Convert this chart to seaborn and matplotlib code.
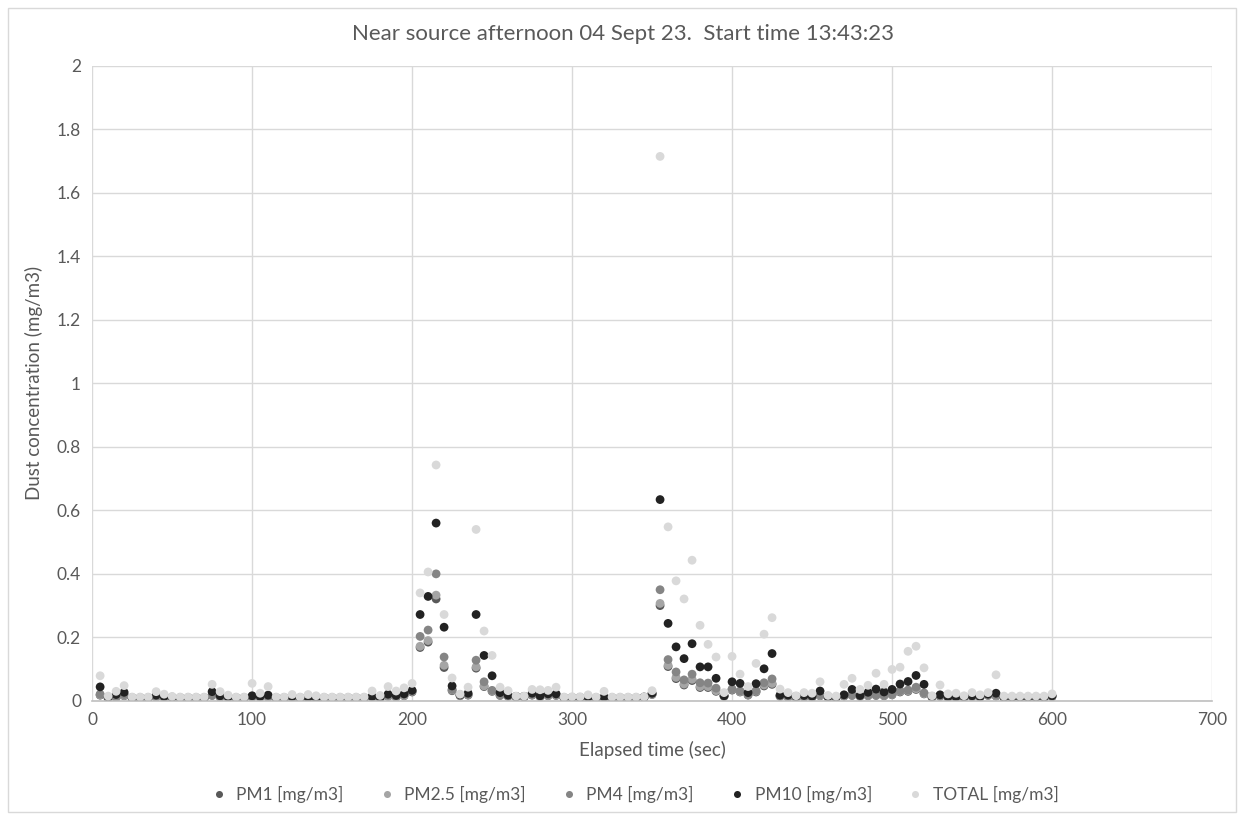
import matplotlib
matplotlib.use("Agg")
import matplotlib.pyplot as plt
from matplotlib.patches import Rectangle
import seaborn as sns
import pandas as pd

elapsed = list(range(5, 605, 5))

pm1 = [0.018, 0.008, 0.010, 0.016, 0.008, 0.008, 0.008, 0.012, 0.010, 0.009,
       0.008, 0.008, 0.008, 0.008, 0.017, 0.012, 0.010, 0.008, 0.008, 0.012,
       0.011, 0.012, 0.008, 0.008, 0.009, 0.008, 0.007, 0.006, 0.008, 0.008,
       0.008, 0.008, 0.008, 0.008, 0.010, 0.008, 0.014, 0.012, 0.016, 0.028,
       0.168, 0.185, 0.321, 0.105, 0.032, 0.016, 0.018, 0.103, 0.045, 0.030,
       0.017, 0.014, 0.012, 0.012, 0.018, 0.013, 0.016, 0.017, 0.008, 0.008,
       0.008, 0.009, 0.008, 0.008, 0.008, 0.008, 0.008, 0.008, 0.010, 0.020,
       0.300, 0.108, 0.070, 0.050, 0.064, 0.042, 0.042, 0.030, 0.014, 0.034,
       0.028, 0.018, 0.028, 0.047, 0.052, 0.014, 0.012, 0.010, 0.012, 0.011,
       0.016, 0.010, 0.009, 0.015, 0.017, 0.014, 0.016, 0.017, 0.016, 0.019,
       0.028, 0.030, 0.036, 0.022, 0.011, 0.014, 0.010, 0.010, 0.010, 0.013,
       0.011, 0.017, 0.015, 0.009, 0.009, 0.009, 0.009, 0.009, 0.009, 0.013]

pm25 = [0.019, 0.009, 0.011, 0.017, 0.009, 0.009, 0.009, 0.013, 0.011, 0.010,
        0.009, 0.009, 0.009, 0.009, 0.018, 0.013, 0.011, 0.009, 0.009, 0.013,
        0.012, 0.013, 0.009, 0.009, 0.010, 0.009, 0.008, 0.007, 0.009, 0.009,
        0.009, 0.009, 0.009, 0.009, 0.011, 0.009, 0.015, 0.013, 0.017, 0.030,
        0.172, 0.190, 0.333, 0.112, 0.034, 0.017, 0.019, 0.107, 0.047, 0.031,
        0.018, 0.015, 0.013, 0.013, 0.019, 0.014, 0.017, 0.018, 0.009, 0.009,
        0.009, 0.010, 0.009, 0.009, 0.009, 0.009, 0.009, 0.009, 0.011, 0.021,
        0.307, 0.112, 0.074, 0.053, 0.068, 0.045, 0.045, 0.032, 0.015, 0.036,
        0.029, 0.019, 0.030, 0.050, 0.055, 0.015, 0.013, 0.011, 0.013, 0.012,
        0.017, 0.011, 0.010, 0.016, 0.018, 0.015, 0.017, 0.018, 0.017, 0.020,
        0.030, 0.032, 0.038, 0.023, 0.012, 0.015, 0.011, 0.011, 0.011, 0.014,
        0.012, 0.018, 0.016, 0.010, 0.010, 0.010, 0.010, 0.010, 0.010, 0.014]

pm4 = [0.021, 0.010, 0.012, 0.020, 0.010, 0.010, 0.010, 0.014, 0.012, 0.011,
       0.010, 0.010, 0.010, 0.010, 0.019, 0.015, 0.012, 0.010, 0.010, 0.014,
       0.014, 0.014, 0.010, 0.010, 0.011, 0.010, 0.009, 0.008, 0.010, 0.010,
       0.010, 0.010, 0.010, 0.010, 0.012, 0.010, 0.017, 0.014, 0.020, 0.032,
       0.203, 0.223, 0.400, 0.138, 0.036, 0.018, 0.020, 0.128, 0.060, 0.033,
       0.019, 0.016, 0.014, 0.014, 0.020, 0.015, 0.018, 0.020, 0.010, 0.010,
       0.010, 0.011, 0.010, 0.010, 0.010, 0.010, 0.010, 0.010, 0.012, 0.022,
       0.350, 0.130, 0.091, 0.066, 0.084, 0.057, 0.056, 0.040, 0.016, 0.037,
       0.031, 0.020, 0.032, 0.057, 0.069, 0.016, 0.014, 0.012, 0.014, 0.013,
       0.019, 0.012, 0.011, 0.017, 0.019, 0.016, 0.018, 0.019, 0.018, 0.021,
       0.032, 0.034, 0.043, 0.025, 0.013, 0.016, 0.012, 0.012, 0.012, 0.015,
       0.013, 0.020, 0.018, 0.011, 0.011, 0.011, 0.011, 0.011, 0.011, 0.015]

pm10 = [0.044, 0.012, 0.020, 0.027, 0.010, 0.010, 0.010, 0.018, 0.014, 0.012,
        0.010, 0.010, 0.010, 0.010, 0.029, 0.016, 0.013, 0.010, 0.010, 0.016,
        0.014, 0.018, 0.010, 0.010, 0.014, 0.010, 0.011, 0.009, 0.010, 0.010,
        0.010, 0.010, 0.010, 0.010, 0.014, 0.011, 0.021, 0.017, 0.022, 0.033,
        0.272, 0.329, 0.560, 0.232, 0.047, 0.019, 0.024, 0.272, 0.143, 0.079,
        0.026, 0.018, 0.014, 0.014, 0.024, 0.016, 0.022, 0.022, 0.010, 0.011,
        0.011, 0.012, 0.010, 0.012, 0.010, 0.010, 0.010, 0.010, 0.012, 0.024,
        0.634, 0.244, 0.170, 0.133, 0.180, 0.107, 0.107, 0.071, 0.016, 0.060,
        0.055, 0.026, 0.054, 0.101, 0.149, 0.018, 0.018, 0.014, 0.017, 0.015,
        0.031, 0.014, 0.012, 0.019, 0.036, 0.017, 0.027, 0.037, 0.028, 0.036,
        0.053, 0.061, 0.080, 0.052, 0.014, 0.019, 0.013, 0.013, 0.013, 0.016,
        0.014, 0.021, 0.024, 0.012, 0.012, 0.012, 0.012, 0.012, 0.012, 0.016]

total = [0.079, 0.015, 0.030, 0.048, 0.012, 0.012, 0.012, 0.029, 0.021, 0.014,
         0.012, 0.012, 0.012, 0.012, 0.052, 0.029, 0.018, 0.012, 0.012, 0.055,
         0.024, 0.045, 0.012, 0.012, 0.020, 0.012, 0.020, 0.016, 0.012, 0.012,
         0.012, 0.012, 0.012, 0.012, 0.031, 0.017, 0.045, 0.031, 0.041, 0.055,
         0.340, 0.406, 0.743, 0.272, 0.072, 0.021, 0.043, 0.540, 0.220, 0.143,
         0.043, 0.032, 0.015, 0.015, 0.036, 0.035, 0.033, 0.043, 0.012, 0.013,
         0.013, 0.019, 0.012, 0.030, 0.012, 0.012, 0.012, 0.012, 0.013, 0.032,
         1.715, 0.548, 0.378, 0.321, 0.443, 0.238, 0.178, 0.138, 0.026, 0.140,
         0.084, 0.045, 0.118, 0.210, 0.262, 0.037, 0.026, 0.016, 0.026, 0.024,
         0.060, 0.017, 0.015, 0.052, 0.071, 0.036, 0.049, 0.087, 0.052, 0.099,
         0.106, 0.156, 0.172, 0.104, 0.016, 0.050, 0.022, 0.024, 0.016, 0.026,
         0.019, 0.026, 0.082, 0.015, 0.015, 0.015, 0.015, 0.015, 0.015, 0.022]

series_names = ["PM1 [mg/m3]", "PM2.5 [mg/m3]", "PM4 [mg/m3]", "PM10 [mg/m3]", "TOTAL [mg/m3]"]
series_colors = ["#595959", "#a5a5a5", "#858585", "#222222", "#d9d9d9"]
title_text = "Near source afternoon 04 Sept 23.  Start time 13:43:23"
x_ticks = [0, 100, 200, 300, 400, 500, 600, 700]
y_ticks = [0, 0.2, 0.4, 0.6, 0.8, 1, 1.2, 1.4, 1.6, 1.8, 2]
y_tick_labels = ["0", "0.2", "0.4", "0.6", "0.8", "1", "1.2", "1.4", "1.6", "1.8", "2"]

frames = []
for name, vals in zip(series_names, [pm1, pm25, pm4, pm10, total]):
    frames.append(pd.DataFrame({"t": elapsed, "v": vals, "s": name}))
df = pd.concat(frames, ignore_index=True)

sns.set_theme(style="white")
plt.rcParams["font.family"] = ["Lato", "DejaVu Sans"]
txt = "#595959"

fig = plt.figure(figsize=(12.45, 8.14), dpi=100)
ax = fig.add_axes([0.074, 0.139, 0.8995, 0.78])

sns.scatterplot(data=df, x="t", y="v", hue="s", hue_order=series_names,
                palette=series_colors, s=40, linewidth=0, ax=ax, legend=True)

ax.set_xlim(0, 700)
ax.set_ylim(0, 2)
ax.set_xticks(x_ticks)
ax.set_yticks(y_ticks)
ax.set_yticklabels(y_tick_labels)
ax.grid(True, color="#d9d9d9", linewidth=1)
ax.set_axisbelow(True)
for sp in ["top", "right", "left"]:
    ax.spines[sp].set_visible(False)
ax.spines["bottom"].set_color("#bfbfbf")
ax.spines["bottom"].set_linewidth(1.2)
ax.tick_params(axis="both", length=0, labelsize=12.5, colors=txt, pad=8)
ax.set_xlabel("Elapsed time (sec)", fontsize=13.5, color=txt, labelpad=9)
ax.set_ylabel("Dust concentration (mg/m3)", fontsize=13.5, color=txt, labelpad=10)
fig.suptitle(title_text, x=0.5, y=1 - 34 / 814, va="center", fontsize=16, color=txt)

handles, labels = ax.get_legend_handles_labels()
ax.get_legend().remove()
for h in handles:
    try:
        h.set_sizes([30])
    except Exception:
        pass
fig.legend(handles, labels, loc="center", bbox_to_anchor=(0.506, 0.024), ncol=5,
           frameon=False, fontsize=12.5, labelcolor=txt, handletextpad=0.0,
           columnspacing=1.5, markerscale=0.8)

fig.patches.append(Rectangle((8 / 1245, 0.002), 1 - 17 / 1245, 1 - 8 / 814 - 0.002,
                             transform=fig.transFigure, fill=False,
                             edgecolor="#d9d9d9", linewidth=1))

fig.savefig("out.png", dpi=100)
